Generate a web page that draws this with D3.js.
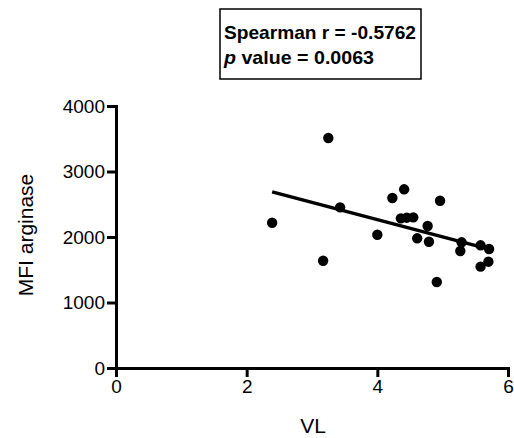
<!DOCTYPE html>
<html>
<head>
<meta charset="utf-8">
<script src="https://cdn.jsdelivr.net/npm/d3@7"></script>
<style>
body { margin: 0; background: #fff; }
svg { display: block; }
</style>
</head>
<body>
<div id="chart"></div>
<script>
// values
var vl = [2.39, 3.25, 3.17, 3.43, 4.00, 4.23, 4.41, 4.36, 4.45, 4.55, 4.77,
          4.61, 4.79, 4.96, 4.91, 5.29, 5.27, 5.58, 5.71, 5.70, 5.58];
var mfi = [2218, 3511, 1638, 2453, 2035, 2595, 2728, 2285, 2295, 2300, 2168,
           1980, 1928, 2554, 1313, 1919, 1786, 1873, 1817, 1623, 1547];
var xTicks = [0, 2, 4, 6];
var yTicks = [0, 1000, 2000, 3000, 4000];
var statLines = ["Spearman r = -0.5762", "p value = 0.0063"];

var width = 514, height = 438;
var font = "'Liberation Sans', Arial, sans-serif";

var svg = d3.select("#chart").append("svg")
	.attr("width", width)
	.attr("height", height);

var x = d3.scaleLinear().domain([0, 6]).range([116, 508]);
var y = d3.scaleLinear().domain([0, 4000]).range([368, 106]);

// least squares fit for the line
var mx = d3.mean(vl), my = d3.mean(mfi);
var sxy = d3.sum(vl, function(d, i) { return (d - mx) * (mfi[i] - my); });
var sxx = d3.sum(vl, function(d) { return (d - mx) * (d - mx); });
var slope = sxy / sxx, icpt = my - slope * mx;
var xMin = d3.min(vl), xMax = d3.max(vl);

var xAxis = svg.append("g")
	.attr("transform", "translate(0," + y(0) + ")")
	.call(d3.axisBottom(x).tickValues(xTicks).tickFormat(d3.format("d"))
		.tickSize(9).tickPadding(3).tickSizeOuter(0));
var yAxis = svg.append("g")
	.attr("transform", "translate(" + x(0) + ",0)")
	.call(d3.axisLeft(y).tickValues(yTicks).tickFormat(d3.format("d"))
		.tickSize(9).tickPadding(2).tickSizeOuter(0));

[xAxis, yAxis].forEach(function(g) {
	g.selectAll("path, line").attr("stroke", "#000").attr("stroke-width", 3);
	g.select(".domain").attr("stroke-linecap", "square");
	g.selectAll("text")
		.attr("fill", "#000")
		.style("font-family", font)
		.style("font-size", "19px");
});

svg.append("line")
	.attr("x1", x(xMin)).attr("y1", y(icpt + slope * xMin))
	.attr("x2", x(xMax)).attr("y2", y(icpt + slope * xMax))
	.attr("stroke", "#000")
	.attr("stroke-width", 3.5);

svg.selectAll("circle.pt")
	.data(vl)
	.enter().append("circle")
	.attr("class", "pt")
	.attr("cx", function(d) { return x(d); })
	.attr("cy", function(d, i) { return y(mfi[i]); })
	.attr("r", 5.2)
	.attr("fill", "#000");

svg.append("text")
	.attr("x", 313).attr("y", 433)
	.attr("text-anchor", "middle")
	.style("font-family", font)
	.style("font-size", "21px")
	.text("VL");

svg.append("text")
	.attr("transform", "translate(33,235) rotate(-90)")
	.attr("text-anchor", "middle")
	.style("font-family", font)
	.style("font-size", "21px")
	.text("MFI arginase");

// stats box
svg.append("rect")
	.attr("x", 220).attr("y", 9)
	.attr("width", 201).attr("height", 70)
	.attr("fill", "#fff")
	.attr("stroke", "#000")
	.attr("stroke-width", 1.5);

svg.append("text")
	.attr("x", 224).attr("y", 39)
	.attr("textLength", 192)
	.attr("lengthAdjust", "spacingAndGlyphs")
	.style("font-family", font)
	.style("font-size", "18.5px")
	.style("font-weight", "bold")
	.text(statLines[0]);

var t2 = svg.append("text")
	.attr("x", 224).attr("y", 64)
	.attr("textLength", 150)
	.attr("lengthAdjust", "spacingAndGlyphs")
	.style("font-family", font)
	.style("font-size", "18.5px")
	.style("font-weight", "bold");
t2.append("tspan").style("font-style", "italic").text(statLines[1].slice(0, 1));
t2.append("tspan").text(statLines[1].slice(1));
</script>
</body>
</html>
